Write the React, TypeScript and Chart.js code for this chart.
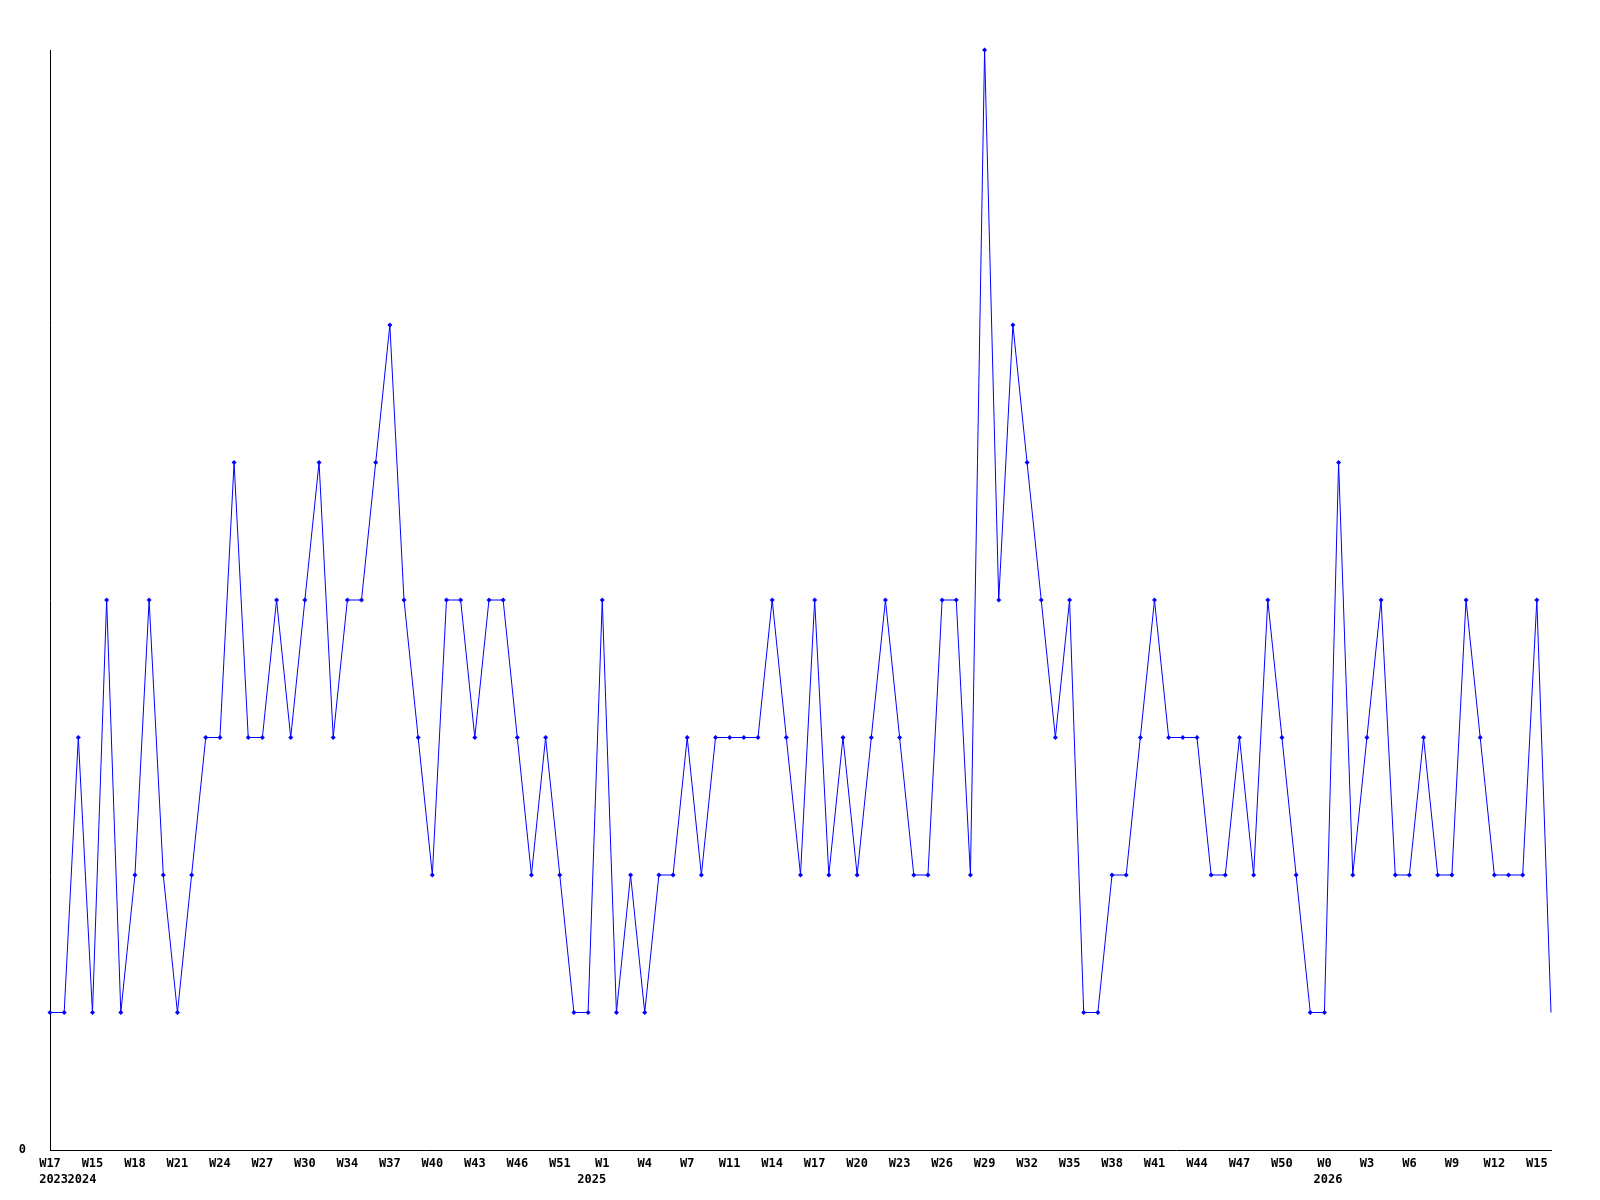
import React, { useEffect, useRef } from "react";
import { Chart, registerables } from "chart.js";

Chart.register(...registerables);

// Week labels, one per data point
const weeks: string[] = [
  "W17",
  "W13", "W14", "W15", "W16", "W17", "W18", "W19", "W20", "W21", "W22", "W23", "W24",
  "W25", "W26", "W27", "W28", "W29", "W30", "W31", "W32", "W34", "W35", "W36", "W37",
  "W38", "W39", "W40", "W41", "W42", "W43", "W44", "W45", "W46", "W47", "W49", "W51",
  "W52", "W0",
  "W1", "W2", "W3", "W4", "W5", "W6", "W7", "W8", "W9", "W11", "W12", "W13", "W14",
  "W15", "W16", "W17", "W18", "W19", "W20", "W21", "W22", "W23", "W24", "W25", "W26",
  "W27", "W28", "W29", "W30", "W31", "W32", "W33", "W34", "W35", "W36", "W37", "W38",
  "W39", "W40", "W41", "W42", "W43", "W44", "W45", "W46", "W47", "W48", "W49", "W50",
  "W51", "W52", "W0",
  "W1", "W2", "W3", "W4", "W5", "W6", "W7", "W8", "W9", "W10", "W11", "W12", "W13",
  "W14", "W15", "W16",
];

// Year labels shown under the axis, by point index
const yearIndexes: number[] = [0, 2, 38, 90];
const yearNames: string[] = ["2023", "2024", "2025", "2026"];

// Series values
const values: number[] = [
  1, 1, 3, 1, 4, 1, 2, 4, 2, 1, 2, 3, 3, 5, 3, 3, 4, 3, 4, 5,
  3, 4, 4, 5, 6, 4, 3, 2, 4, 4, 3, 4, 4, 3, 2, 3, 2, 1, 1, 4,
  1, 2, 1, 2, 2, 3, 2, 3, 3, 3, 3, 4, 3, 2, 4, 2, 3, 2, 3, 4,
  3, 2, 2, 4, 4, 2, 8, 4, 6, 5, 4, 3, 4, 1, 1, 2, 2, 3, 4, 3,
  3, 3, 2, 2, 3, 2, 4, 3, 2, 1, 1, 5, 2, 3, 4, 2, 2, 3, 2, 2,
  4, 3, 2, 2, 2, 4, 1,
];

const yTickLabels: string[] = ["0"];

export default function App() {
  const ref = useRef<HTMLCanvasElement>(null);

  useEffect(() => {
    if (!ref.current) return;
    const font = { family: "'DejaVu Sans Mono', 'Liberation Mono', monospace", size: 12, weight: "bold" as const, lineHeight: 1.3 };
    const chart = new Chart(ref.current, {
      type: "line",
      data: {
        labels: weeks,
        datasets: [
          {
            data: values,
            borderColor: "#0000ff",
            backgroundColor: "#0000ff",
            borderWidth: 1,
            tension: 0,
            clip: false,
            pointStyle: "rectRot",
            pointRadius: (ctx: any) => (ctx.dataIndex === values.length - 1 ? 0 : 2.5),
            pointBackgroundColor: "#0000ff",
            pointBorderColor: "#0000ff",
            pointBorderWidth: 0,
          },
        ],
      },
      options: {
        responsive: false,
        animation: false,
        layout: { padding: { top: 50, right: 49, left: 0, bottom: 0 } },
        plugins: { legend: { display: false }, tooltip: { enabled: false } },
        scales: {
          x: {
            type: "category",
            offset: false,
            grid: { display: false, drawTicks: false },
            border: { display: true, color: "#000000", width: 1 },
            afterFit: (s: any) => { s.height = 50; },
            ticks: {
              autoSkip: false,
              maxRotation: 0,
              minRotation: 0,
              padding: 6,
              color: "#000000",
              font,
              callback: (_v: any, i: number) => {
                const w = i % 3 === 0 ? weeks[i] : "";
                const yi = yearIndexes.indexOf(i);
                const y = yi >= 0 ? " " + yearNames[yi] : "";
                if (!w && !y) return "";
                return [w, y];
              },
            },
          },
          y: {
            min: 0,
            max: 8,
            grid: { display: false, drawTicks: false },
            border: { display: true, color: "#000000", width: 1 },
            afterFit: (s: any) => { s.width = 50; },
            ticks: {
              stepSize: 1,
              padding: 24,
              color: "#000000",
              font,
              callback: (v: any) => (yTickLabels.includes(String(v)) ? String(v) : ""),
            },
          },
        },
      },
    });
    return () => chart.destroy();
  }, []);

  return (
    <div style={{ position: "absolute", left: 0, top: 0, width: 1600, height: 1200, background: "#fff" }}>
      <canvas ref={ref} width={1600} height={1200} style={{ display: "block" }} />
    </div>
  );
}
